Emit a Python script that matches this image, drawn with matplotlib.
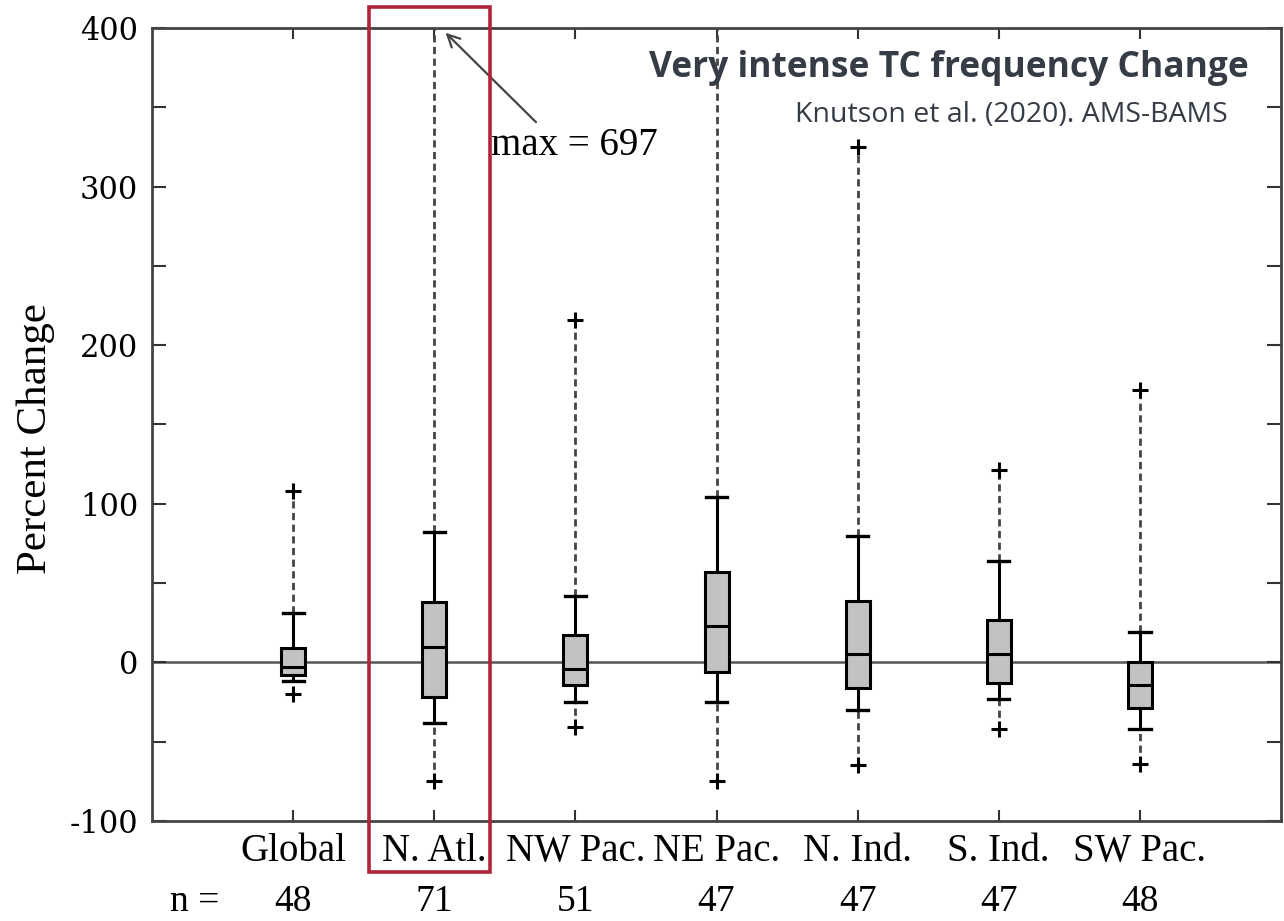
import numpy as np
import matplotlib
matplotlib.use("Agg")
from matplotlib import pyplot as plt
from matplotlib import transforms

# basin labels and ensemble sizes
regions = ["Global", "N. Atl.", "NW Pac.", "NE Pac.", "N. Ind.", "S. Ind.", "SW Pac."]
n_models = [48, 71, 51, 47, 47, 47, 48]

# percent change statistics per basin
pct_min = [-20, -75, -41, -75, -65, -42, -64]
pct_lo = [-12, -38, -25, -25, -30, -23, -42]
pct_q1 = [-8, -22, -14, -6, -16, -13, -29]
pct_med = [-3, 10, -4, 23, 5, 5, -14]
pct_q3 = [9, 38, 17, 57, 39, 27, 0]
pct_hi = [31, 82, 42, 104, 80, 64, 19]
pct_max = [108, 697, 216, 430, 325, 121, 172]   # N. Atl. and NE Pac. run off the top

natl_max = 697

plt.rcParams["axes.unicode_minus"] = False

serif = "Liberation Serif"
title_col = "#363c45"

fig, ax = plt.subplots(figsize=(12.84, 9.21), dpi=100)
fig.subplots_adjust(left=0.1184, right=0.9977, top=0.9696, bottom=0.1086)

pos = np.arange(1, len(regions) + 1)

stats = []
for i in range(len(regions)):
    stats.append(dict(med=pct_med[i], q1=pct_q1[i], q3=pct_q3[i],
                      whislo=pct_lo[i], whishi=pct_hi[i], fliers=[]))

ax.axhline(0, color="#555555", lw=1.8, zorder=1)

# dashed extensions from the whisker caps to the extremes
ax.vlines(pos, pct_hi, pct_max, colors="#444444", lw=2,
          linestyles=(0, (2.6, 1.6)), zorder=2)
ax.vlines(pos, pct_min, pct_lo, colors="#444444", lw=2,
          linestyles=(0, (2.6, 1.6)), zorder=2)

ax.bxp(stats, positions=pos, widths=0.17, capwidths=0.15, patch_artist=True,
       showfliers=False,
       boxprops=dict(facecolor="#c2c2c2", edgecolor="black", lw=2.2),
       whiskerprops=dict(color="black", lw=2.2),
       capprops=dict(color="black", lw=2.4),
       medianprops=dict(color="black", lw=2.2),
       zorder=3)

ax.plot(pos, pct_max, "+", color="black", ms=11, mew=2.2, zorder=4)
ax.plot(pos, pct_min, "+", color="black", ms=11, mew=2.2, zorder=4)

ax.set_xlim(0, 8)
ax.set_ylim(-100, 400)

ax.set_xticks(pos)
ax.set_xticklabels(regions, fontfamily=serif, fontsize=28)
ax.set_yticks([-100, 0, 100, 200, 300, 400])
ax.set_yticks(np.arange(-100, 401, 50), minor=True)
for lab in ax.get_yticklabels():
    lab.set_fontfamily("DejaVu Serif")
    lab.set_fontsize(22)
ax.tick_params(axis="x", which="both", direction="in", top=True, length=8,
               width=1.5, pad=9, colors="#333333", labelcolor="black")
ax.tick_params(axis="y", which="both", direction="in", right=True, length=10,
               width=1.5, pad=10, colors="#333333", labelcolor="black")
for s in ax.spines.values():
    s.set_color("#444444")
    s.set_linewidth(2)

ax.set_ylabel("Percent Change", fontfamily=serif, fontsize=31)
ax.yaxis.set_label_coords(-0.086, 0.482)

# model counts under each basin
xtrans = transforms.blended_transform_factory(ax.transData, ax.transAxes)
ax.text(0.30, -0.1135, "n =", transform=xtrans, ha="center", va="baseline",
        fontfamily=serif, fontsize=27)
for p, n in zip(pos, n_models):
    ax.text(p, -0.1135, str(n), transform=xtrans, ha="center", va="baseline",
            fontfamily=serif, fontsize=27)

ax.annotate(f"max = {natl_max}", xy=(2.08, 397), xytext=(2.40, 326),
            ha="left", va="center", fontfamily=serif, fontsize=28,
            arrowprops=dict(arrowstyle="->", color="#444444", lw=1.6,
                            relpos=(0.3, 1.0), shrinkA=2, shrinkB=0,
                            mutation_scale=22))

ax.text(0.971, 0.9496, "Very intense TC frequency Change", transform=ax.transAxes,
        ha="right", va="center", fontfamily="Open Sans", fontweight="bold",
        fontsize=25.5, color=title_col)
ax.text(0.953, 0.890, "Knutson et al. (2020). AMS-BAMS", transform=ax.transAxes,
        ha="right", va="center", fontfamily="Open Sans", fontsize=20.5,
        color=title_col)

# highlight frame around the North Atlantic column
hl = plt.Rectangle((2 - 0.46, -0.0643), 0.857, 1.0908, transform=xtrans,
                   fill=False, edgecolor="#b1233a", lw=2.6, clip_on=False,
                   zorder=10)
ax.add_patch(hl)

fig.savefig("out.png", dpi=100)
